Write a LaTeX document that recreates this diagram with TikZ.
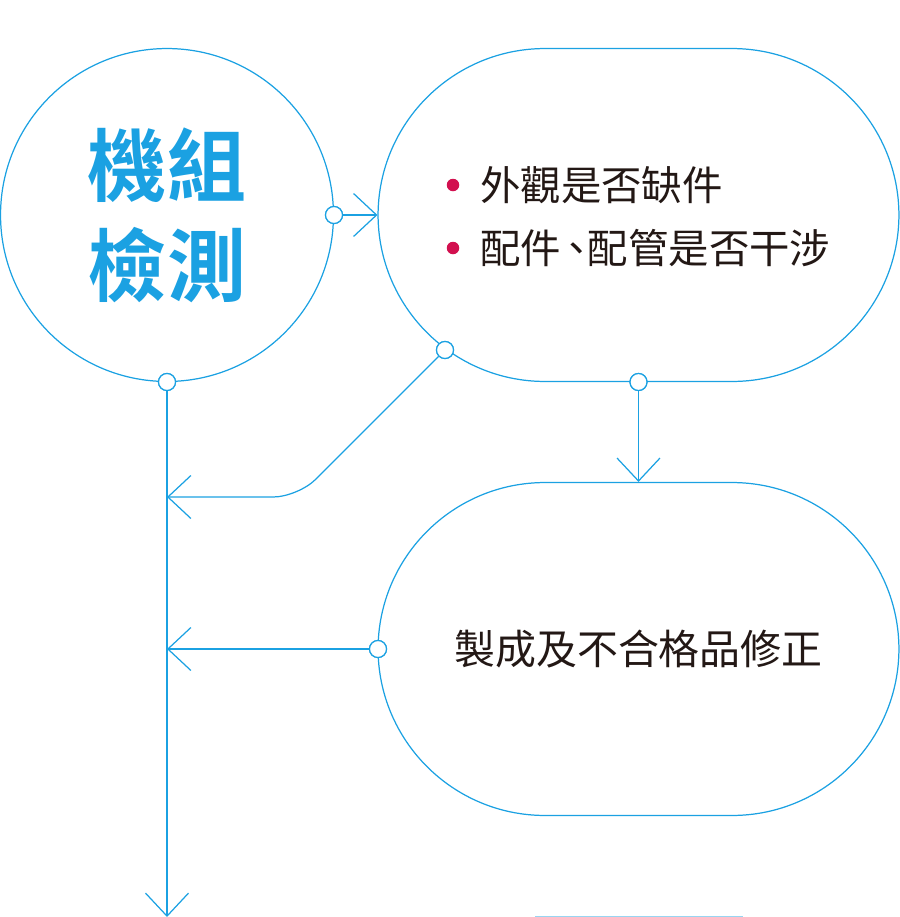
\documentclass[tikz,border=0pt]{standalone}
\usepackage{fontspec}
\usetikzlibrary{arrows.meta}
\newfontfamily\cjk{Noto Sans CJK TC}
\newfontfamily\cjkbold{Noto Sans CJK TC Bold}
\definecolor{flowblue}{HTML}{1BA1E2}
\definecolor{dotred}{HTML}{D2104F}
\definecolor{ink}{HTML}{231815}
\tikzset{
  flow/.style={draw=flowblue, line width=0.7pt},
  joint/.style={circle, draw=flowblue, line width=0.7pt, fill=white, inner sep=0pt, minimum size=0.34cm},
  stadium/.style={flow, rectangle, rounded corners=3.34cm, minimum width=10.42cm, minimum height=6.66cm},
  tip/.style={-{Straight Barb[length=4.6mm, width=8.6mm]}},
  item/.style={anchor=west, text=ink, inner sep=0pt, font=\cjk\fontsize{23pt}{23pt}\selectfont},
  bullet/.style={circle, fill=dotred, inner sep=0pt, minimum size=0.25cm}
}
\begin{document}
\begin{tikzpicture}[x=0.02cm, y=-0.02cm]
    \useasboundingbox (0, 0) rectangle (900, 917);
    \node[flow, circle, minimum size=6.66cm, align=center, text=flowblue,
      font=\cjkbold\fontsize{45pt}{57pt}\selectfont] (check) at (167, 215) {機組\\檢測};
    \node[stadium] (look) at (638.5, 215) {};
    \node[stadium] (fix) at (638.5, 649) {};
    \node[bullet] (b1) at (453, 185) {};
    \node[item] (t1) at (480, 185) {外觀是否缺件};
    \node[bullet] (b2) at (453, 248) {};
    \node[item] (t2) at (480, 248) {配件\kern-0.12em、\kern-0.22em配管是否干涉};
    \node[text=ink, font=\cjk\fontsize{23.3pt}{23pt}\selectfont] (t3) at (fix) {製成及不合格品修正};
    \draw[flow, opacity=0.45] (535, 916.5) -- (743, 916.5);
    % joints on the outlines
    \node[joint] (j1) at (334, 215) {};
    \node[joint] (j2) at (167, 382) {};
    \node[joint] (j3) at (445, 350) {};
    \node[joint] (j4) at (638.5, 382) {};
    \node[joint] (j5) at (378, 649) {};
    \coordinate (m1) at (167, 497);
    \coordinate (m2) at (167, 649);
    \coordinate (down) at (167, 917);
    \draw[flow, tip] (j1) -- (look.west);
    \draw[flow, tip] (j4) -- (fix.north);
    \draw[flow, tip, rounded corners=0.5cm] (j3) -- (298, 497) -- (m1);
    \draw[flow, tip] (j5) -- (m2);
    \draw[flow, tip] (j2) -- (down);
    \node[joint] at (j1) {};
    \node[joint] at (j2) {};
    \node[joint] at (j3) {};
    \node[joint] at (j4) {};
    \node[joint] at (j5) {};
  \end{tikzpicture}
\end{document}
